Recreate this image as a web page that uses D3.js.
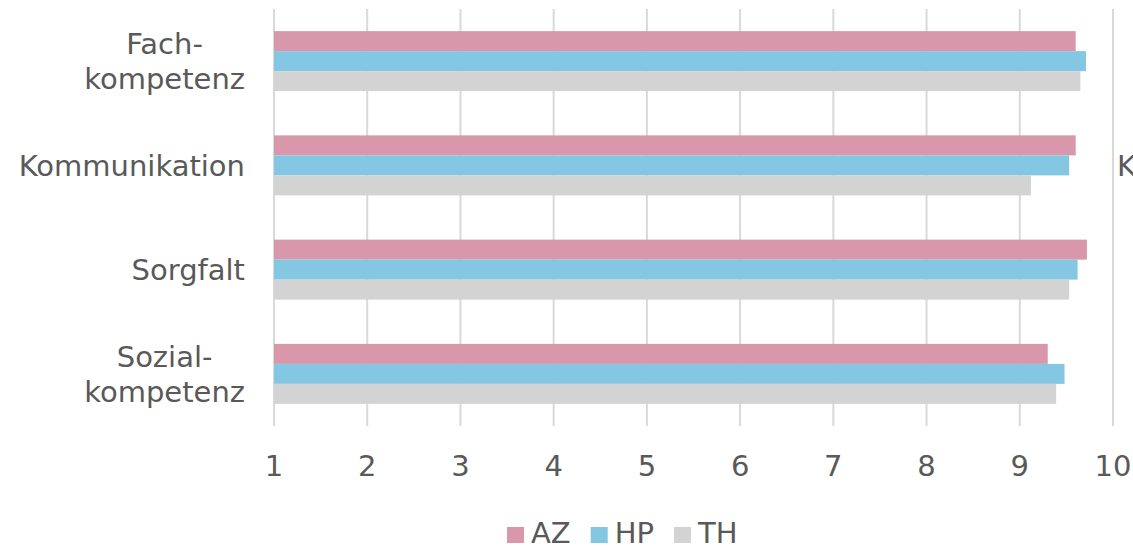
<!DOCTYPE html>
<html>
<head>
<meta charset="utf-8">
<script src="https://cdn.jsdelivr.net/npm/d3@7"></script>
<style>
html,body{margin:0;padding:0;background:#fff;}
svg{display:block;font-family:"DejaVu Sans",Verdana,sans-serif;}
</style>
</head>
<body>
<svg id="chart" width="1133" height="550"></svg>
<script>
const categories = [["Fach-","kompetenz"],["Kommunikation"],["Sorgfalt"],["Sozial-","kompetenz"]];
const categoryKeys = ["Fachkompetenz","Kommunikation","Sorgfalt","Sozialkompetenz"];
const seriesNames = ["AZ","HP","TH"];
const valuesAZ = [9.60, 9.60, 9.72, 9.30];
const valuesHP = [9.71, 9.53, 9.62, 9.48];
const valuesTH = [9.65, 9.12, 9.53, 9.39];
const tickValues = [1,2,3,4,5,6,7,8,9,10];
const colors = ["#d897ab","#84c7e2","#d3d3d3"];

const seriesValues = [valuesAZ, valuesHP, valuesTH];
const svg = d3.select("#chart");
const textColor = "#595959";
const fs = 29;

const x = d3.scaleLinear().domain([1,10]).range([274,1113]);
const y = d3.scaleBand().domain(categoryKeys).range([9,426]).padding(0);
const groupH = 60;
const ys = d3.scaleBand().domain(seriesNames).range([0,groupH]).padding(0);

// gridlines
svg.append("g").selectAll("line").data(tickValues).join("line")
  .attr("x1", d=>x(d)).attr("x2", d=>x(d))
  .attr("y1", 9).attr("y2", 426)
  .attr("stroke", "#d9d9d9").attr("stroke-width", 2);

// bars
const gs = svg.append("g").selectAll("g").data(categoryKeys).join("g")
  .attr("transform", d=>`translate(0,${y(d)+(y.bandwidth()-groupH)/2})`);
gs.each(function(cat, ci){
  d3.select(this).selectAll("rect").data(seriesNames).join("rect")
    .attr("x", x(1))
    .attr("y", s=>ys(s))
    .attr("width", (s,si)=>x(seriesValues[si][ci]) - x(1))
    .attr("height", ys.bandwidth())
    .attr("fill", (s,si)=>colors[si]);
});

// x tick labels
svg.append("g").selectAll("text").data(tickValues).join("text")
  .attr("x", d=>x(d)).attr("y", 476)
  .attr("text-anchor","middle")
  .attr("font-size", fs).attr("fill", textColor)
  .text(d=>d);

// category labels
const labG = svg.append("g");
categoryKeys.forEach((k,i)=>{
  const lines = categories[i];
  const cy = y(k) + y.bandwidth()/2;
  const lh = 35.5;
  const g = labG.append("g");
  const texts = lines.map((ln,li)=>g.append("text")
    .attr("y", cy + 10.5 + (li - (lines.length-1)/2)*lh)
    .attr("font-size", fs).attr("fill", textColor)
    .attr("text-anchor","middle")
    .text(ln));
  const maxW = d3.max(texts, t=>t.node().getComputedTextLength());
  const cx = 245 - maxW/2;
  texts.forEach(t=>t.attr("x", cx));
});

// stray clipped label at right edge (as in the reference)
svg.append("text").attr("x", 1117).attr("y", 176)
  .attr("font-size", fs).attr("fill", textColor).text("K");

// legend
const leg = svg.append("g");
let lx = 507;
seriesNames.forEach((s,i)=>{
  leg.append("rect").attr("x", lx).attr("y", 527).attr("width", 17).attr("height", 16).attr("fill", colors[i]);
  const t = leg.append("text").attr("x", lx+24).attr("y", 543)
    .attr("font-size", fs).attr("fill", textColor).text(s);
  lx = lx + 24 + t.node().getComputedTextLength() + 20;
});
</script>
</body>
</html>
